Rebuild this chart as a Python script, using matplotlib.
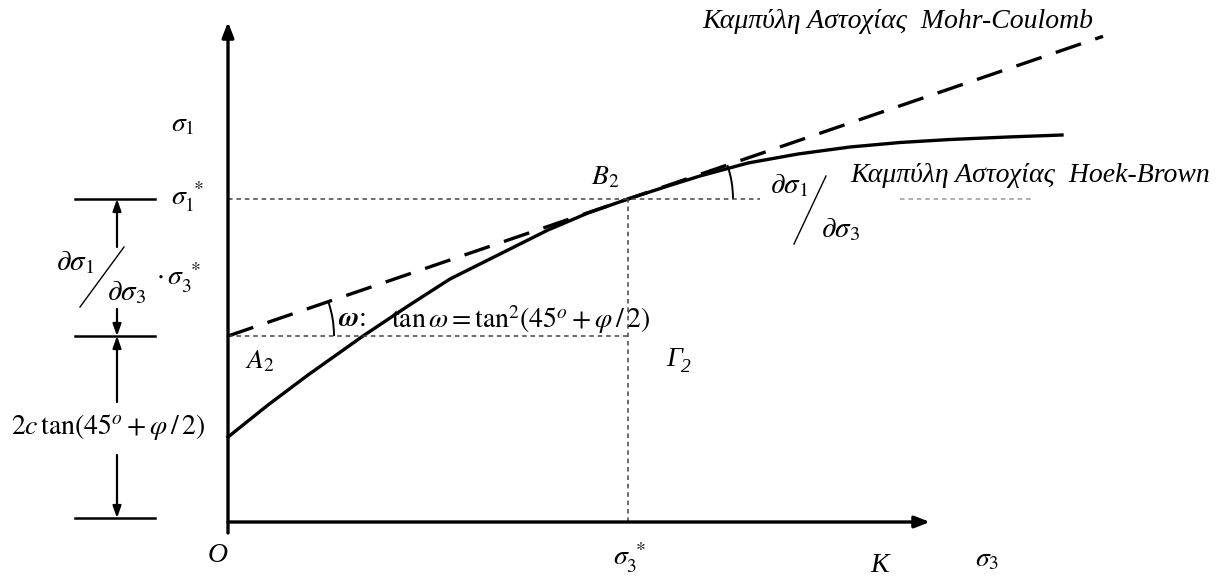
import numpy as np
import matplotlib.pyplot as plt
from matplotlib.patches import Arc

plt.rcParams["mathtext.fontset"] = "stix"
plt.rcParams["font.family"] = "Liberation Serif"

# sigma3 / sigma1 values of the failure curves (origin at O)
hb_s3 = [0, 40, 80, 135, 180, 222, 270, 320, 360, 400, 440, 472, 520, 570,
         622, 672, 722, 780, 834]
hb_s1 = [85, 117, 147, 186, 216, 243, 267, 292, 309, 323, 336, 346, 359, 368,
         375, 379.5, 382.5, 385, 387]

mc_intercept = 186
mc_slope = 0.3425
mc_s3_end = 875

sigma3_star = 400
sigma1_star = 323
omega_deg = np.degrees(np.arctan(mc_slope))

fig = plt.figure(figsize=(12.23, 5.77), dpi=100)
ax = fig.add_axes([0, 0, 1, 1])
ax.set_xlim(-228, 995)
ax.set_ylim(-55, 522)
ax.axis("off")

# axes with arrow heads
ax.annotate("", xy=(0, 500), xytext=(0, -11),
            arrowprops=dict(arrowstyle="-|>,head_length=0.9,head_width=0.35",
                            lw=2.4, color="black", shrinkA=0, shrinkB=0))
ax.annotate("", xy=(702, 0), xytext=(0, 0),
            arrowprops=dict(arrowstyle="-|>,head_length=0.9,head_width=0.35",
                            lw=2.4, color="black", shrinkA=0, shrinkB=0))

# Hoek-Brown curve
ax.plot(hb_s3, hb_s1, color="black", lw=2.4, solid_joinstyle="round")

# Mohr-Coulomb line
mc_x = np.array([0, mc_s3_end])
ax.plot(mc_x, mc_intercept + mc_slope * mc_x, color="black", lw=2.4,
        dashes=(8, 4.5), dash_capstyle="butt")

# dotted helper lines
dot = dict(color="#444444", lw=1.1, dashes=(3, 2.5))
ax.plot([0, 532], [sigma1_star, sigma1_star], **dot)
ax.plot([672, 805], [sigma1_star, sigma1_star], color="#9a9a9a", lw=1.1, dashes=(3, 2.5))
ax.plot([sigma3_star, sigma3_star], [0, sigma1_star], **dot)
ax.plot([0, sigma3_star], [mc_intercept, mc_intercept], **dot)

# angle arcs
ax.add_patch(Arc((0, mc_intercept), 212, 212, theta1=0, theta2=omega_deg,
                 color="black", lw=1.4))
ax.add_patch(Arc((sigma3_star, sigma1_star), 210, 210, theta1=0, theta2=omega_deg,
                 color="black", lw=1.4))

# dimension bars on the left
for lev in [sigma1_star, mc_intercept, 4]:
    ax.plot([-153, -73], [lev, lev], color="black", lw=1.8)

arr = dict(arrowstyle="-|>,head_length=0.7,head_width=0.25", lw=1.6,
           color="black", shrinkA=0, shrinkB=0)
ax.annotate("", xy=(-111, sigma1_star), xytext=(-111, 275), arrowprops=arr)
ax.annotate("", xy=(-111, mc_intercept), xytext=(-111, 213), arrowprops=arr)
ax.annotate("", xy=(-111, mc_intercept), xytext=(-111, 120), arrowprops=arr)
ax.annotate("", xy=(-111, 4), xytext=(-111, 67), arrowprops=arr)

fs = 20
ax.text(-45, 397, r"$\sigma_{\mathit{1}}$", fontsize=fs, ha="center", va="center")
ax.text(-40, 325, r"$\sigma_{\mathit{1}}^{\ *}$", fontsize=fs, ha="center", va="center")
ax.text(-10, -33, "O", fontsize=fs, style="italic", ha="center", va="center")
ax.text(402, -36, r"$\sigma_{\mathit{3}}^{\ *}$", fontsize=fs, ha="center", va="center")
ax.text(652, -43, "K", fontsize=fs, style="italic", ha="center", va="center")
ax.text(759, -38, r"$\sigma_{\mathit{3}}$", fontsize=fs, ha="center", va="center")
ax.text(32, 160, r"$A_{\mathit{2}}$", fontsize=fs, ha="center", va="center")
ax.text(446, 162, "Γ", fontsize=fs, style="italic", ha="center", va="center")
ax.text(453, 154, "2", fontsize=14, style="italic", ha="left", va="center")
ax.text(377, 344, r"$B_{\mathit{2}}$", fontsize=fs, ha="center", va="center")

ax.text(124, 202, r"$\boldsymbol{\omega}$:", fontsize=fs, ha="center", va="center")
ax.text(163, 202, r"$\tan\omega=\tan^2\!\left(45^o+\varphi\,/\,2\right)$",
        fontsize=fs, ha="left", va="center")

# slope fraction near the tangent point
ax.text(561, 336, r"$\partial\sigma_1$", fontsize=21, ha="center", va="center")
ax.plot([566, 598], [278, 346], color="black", lw=1.0)
ax.text(613, 292, r"$\partial\sigma_3$", fontsize=21, ha="center", va="center")

# slope fraction on the left dimension
ax.text(-153, 259, r"$\partial\sigma_1$", fontsize=21, ha="center", va="center")
ax.plot([-148, -104], [215, 275], color="black", lw=1.0)
ax.text(-101, 229, r"$\partial\sigma_3$", fontsize=21, ha="center", va="center")
ax.text(-50, 244, r"$\cdot\,\sigma_3^{\ *}$", fontsize=fs, ha="center", va="center")

ax.text(-120, 95, r"$2c\,\tan\!\left(45^o+\varphi\,/\,2\right)$", fontsize=fs,
        ha="center", va="center")

ax.text(622, 346, "Καμπύλη Αστοχίας  Hoek-Brown", fontsize=fs, style="italic",
        ha="left", va="center")
ax.text(474, 500, "Καμπύλη Αστοχίας  Mohr-Coulomb", fontsize=fs, style="italic",
        ha="left", va="center")

fig.savefig("out.png", dpi=100)
